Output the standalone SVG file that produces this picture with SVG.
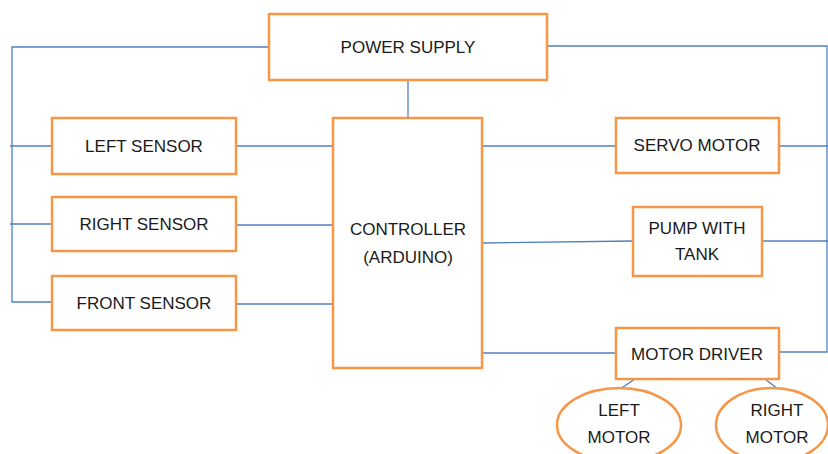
<svg xmlns="http://www.w3.org/2000/svg" width="828" height="454" viewBox="0 0 828 454">
<style>
.box{fill:#fff;stroke:#F79646;stroke-width:2.5}
.ln{fill:none;stroke:#4F81BD;stroke-width:1.3}
text{font-family:"Liberation Sans",Arial,sans-serif;font-size:17px;fill:#1a1a1a;text-anchor:middle;dominant-baseline:central}
</style>
<rect width="828" height="454" fill="#fff"/>
<g id="connectors">
<polyline class="ln" points="269,47 12,47 12,302 52,302"/>
<line class="ln" x1="10" y1="146" x2="52" y2="146"/>
<line class="ln" x1="10" y1="224" x2="52" y2="224"/>
<polyline class="ln" points="547,46 827,46 827,352 779,352"/>
<line class="ln" x1="779" y1="146" x2="828" y2="146"/>
<line class="ln" x1="762" y1="241" x2="828" y2="241"/>
<line class="ln" x1="408" y1="80" x2="408" y2="118"/>
<line class="ln" x1="236" y1="146" x2="333" y2="146"/>
<line class="ln" x1="236" y1="225" x2="333" y2="225"/>
<line class="ln" x1="236" y1="304" x2="333" y2="304"/>
<line class="ln" x1="482" y1="146" x2="616" y2="146"/>
<line class="ln" x1="482" y1="243" x2="633" y2="241"/>
<line class="ln" x1="482" y1="353" x2="616" y2="353"/>
<line class="ln" x1="635" y1="379" x2="620" y2="389"/>
<line class="ln" x1="765" y1="379" x2="778" y2="389"/>
</g>
<g id="power-supply"><rect class="box" x="269" y="14" width="278" height="66"/><text x="408" y="47">POWER SUPPLY</text></g>
<g id="left-sensor"><rect class="box" x="52" y="118" width="184" height="56"/><text x="144" y="146">LEFT SENSOR</text></g>
<g id="right-sensor"><rect class="box" x="52" y="197" width="184" height="54"/><text x="144" y="224">RIGHT SENSOR</text></g>
<g id="front-sensor"><rect class="box" x="52" y="276" width="184" height="54"/><text x="144" y="303">FRONT SENSOR</text></g>
<g id="controller"><rect class="box" x="333" y="118" width="149" height="250"/><text x="408" y="229">CONTROLLER</text><text x="408" y="257">(ARDUINO)</text></g>
<g id="servo-motor"><rect class="box" x="616" y="118" width="163" height="55"/><text x="697" y="145">SERVO MOTOR</text></g>
<g id="pump"><rect class="box" x="633" y="207" width="129" height="69"/><text x="697" y="228">PUMP WITH</text><text x="697" y="254">TANK</text></g>
<g id="motor-driver"><rect class="box" x="616" y="328" width="163" height="51"/><text x="697" y="354">MOTOR DRIVER</text></g>
<g id="left-motor"><ellipse class="box" cx="619" cy="425" rx="62" ry="37"/><text x="619" y="410">LEFT</text><text x="619" y="437">MOTOR</text></g>
<g id="right-motor"><ellipse class="box" cx="772" cy="425" rx="56" ry="37"/><text x="777" y="410">RIGHT</text><text x="777" y="437">MOTOR</text></g>
</svg>
